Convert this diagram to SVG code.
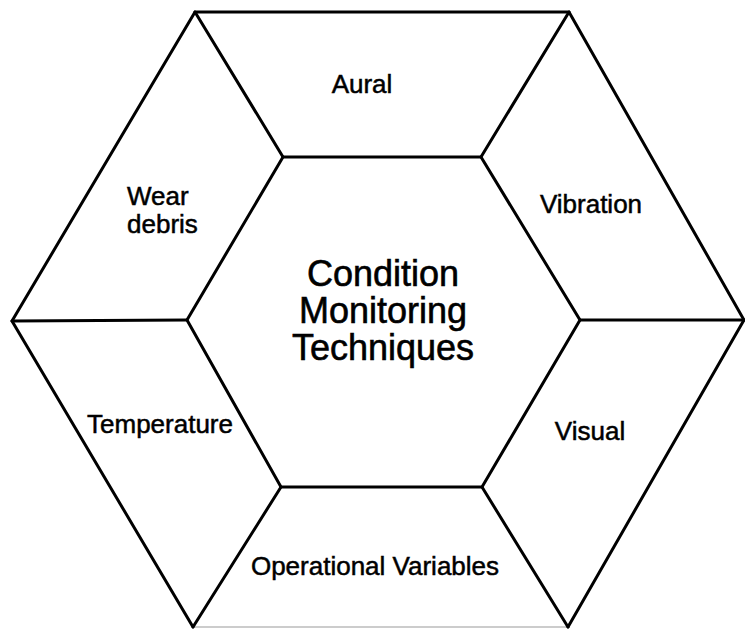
<svg xmlns="http://www.w3.org/2000/svg" width="745" height="629" viewBox="0 0 745 629">
<style>
.ln{stroke:#000;stroke-width:3;fill:none;stroke-linejoin:miter;stroke-linecap:round}
.t{font-family:"Liberation Sans",Arial,sans-serif;font-size:26px;fill:#000;stroke:#000;stroke-width:0.5}
.c{font-family:"Liberation Sans",Arial,sans-serif;font-size:36px;fill:#000;stroke:#000;stroke-width:0.6;text-anchor:middle}
</style>
<rect width="745" height="629" fill="#fff"/>
<g id="connectors">
<polyline class="ln" points="193,627 12,321 195,12 569,12 744,320 568,627"/>
<line x1="193" y1="627" x2="568" y2="627" stroke="#999" stroke-width="1.2"/>
<polygon class="ln" points="283,157 481,157 580,320 482,487 281,487 187,320"/>
<line class="ln" x1="195" y1="12" x2="283" y2="157"/>
<line class="ln" x1="569" y1="12" x2="481" y2="157"/>
<line class="ln" x1="744" y1="320" x2="580" y2="320"/>
<line class="ln" x1="568" y1="627" x2="482" y2="487"/>
<line class="ln" x1="193" y1="627" x2="281" y2="487"/>
<line class="ln" x1="12" y1="321" x2="187" y2="320"/>
</g>
<g id="center"><text class="c" x="383" y="286">Condition</text><text class="c" x="383" y="323">Monitoring</text><text class="c" x="383" y="360">Techniques</text></g>
<g id="aural"><text class="t" x="362" y="93" text-anchor="middle">Aural</text></g>
<g id="vibration"><text class="t" x="591" y="213" text-anchor="middle">Vibration</text></g>
<g id="visual"><text class="t" x="590" y="440" text-anchor="middle">Visual</text></g>
<g id="operational"><text class="t" x="375" y="575" text-anchor="middle">Operational Variables</text></g>
<g id="temperature"><text class="t" x="160" y="433" text-anchor="middle">Temperature</text></g>
<g id="wear"><text class="t" x="127" y="205">Wear</text><text class="t" x="127" y="233">debris</text></g>
</svg>
